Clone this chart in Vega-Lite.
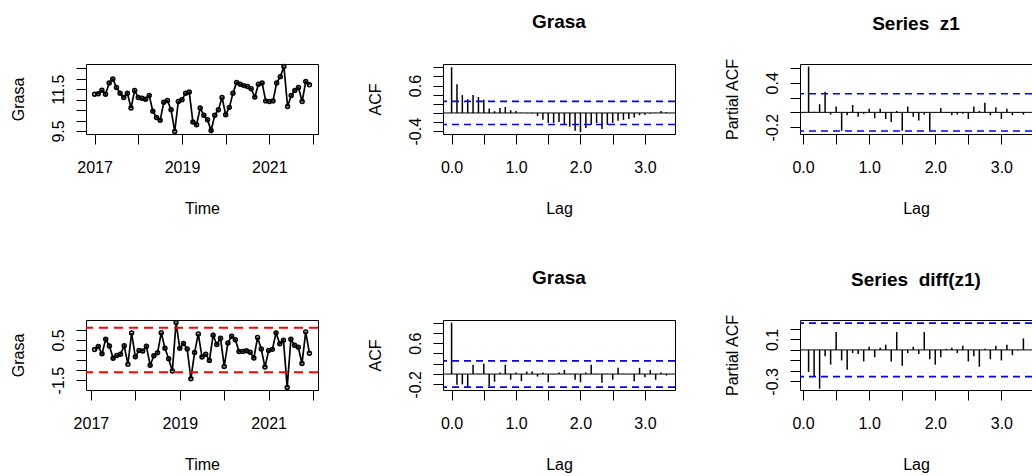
{
  "$schema": "https://vega.github.io/schema/vega-lite/v6.json",
  "background": "white",
  "padding": {"left": 10, "top": 12, "right": 0, "bottom": 1},
  "columns": 3,
  "spacing": {"row": 186, "column": 125},
  "bounds": "flush",
  "config": {
    "font": "Liberation Sans",
    "view": {"stroke": "black", "strokeWidth": 1},
    "axis": {
      "grid": false, "domain": false, "ticks": true, "tickSize": 10, "tickColor": "black", "tickWidth": 1,
      "labelColor": "black", "labelFontSize": 16, "labelFont": "Liberation Sans",
      "titleFont": "Liberation Sans", "titleFontSize": 16, "titleFontWeight": "normal", "titleColor": "black",
      "labelFlush": false, "labelOverlap": false, "labelBound": false
    },
    "axisX": {
      "labelAngle": 0, "labelAlign": "center", "labelBaseline": "alphabetic", "labelPadding": 28.5,
      "titleX": 116, "titleY": 79, "titleBaseline": "alphabetic", "titleAlign": "center", "titleAngle": 0
    },
    "axisY": {
      "labelAngle": -90, "labelAlign": "center", "labelBaseline": "alphabetic", "labelPadding": 12.5,
      "titleX": -62.5, "titleY": 35, "titleAngle": -90, "titleAlign": "center", "titleBaseline": "alphabetic"
    },
    "title": {"font": "Liberation Sans", "fontSize": 19, "fontWeight": "bold", "color": "black", "baseline": "alphabetic", "offset": 32, "frame": "group", "anchor": "middle"}
  },
  "datasets": {
    "z1": [
      {"t": 2017, "v": 11.26}, {"t": 2017.0833, "v": 11.28}, {"t": 2017.1667, "v": 11.45}, {"t": 2017.25, "v": 11.26},
      {"t": 2017.3333, "v": 11.79}, {"t": 2017.4167, "v": 11.99}, {"t": 2017.5, "v": 11.58}, {"t": 2017.5833, "v": 11.31},
      {"t": 2017.6667, "v": 11.10}, {"t": 2017.75, "v": 11.31}, {"t": 2017.8333, "v": 10.60}, {"t": 2017.9167, "v": 11.44},
      {"t": 2018, "v": 11.10}, {"t": 2018.0833, "v": 11.07}, {"t": 2018.1667, "v": 11.02}, {"t": 2018.25, "v": 11.20},
      {"t": 2018.3333, "v": 10.44}, {"t": 2018.4167, "v": 10.15}, {"t": 2018.5, "v": 10.01}, {"t": 2018.5833, "v": 10.87},
      {"t": 2018.6667, "v": 10.96}, {"t": 2018.75, "v": 10.52}, {"t": 2018.8333, "v": 9.48}, {"t": 2018.9167, "v": 10.91},
      {"t": 2019, "v": 10.99}, {"t": 2019.0833, "v": 11.31}, {"t": 2019.1667, "v": 11.36}, {"t": 2019.25, "v": 9.93},
      {"t": 2019.3333, "v": 9.80}, {"t": 2019.4167, "v": 10.60}, {"t": 2019.5, "v": 10.25}, {"t": 2019.5833, "v": 10.04},
      {"t": 2019.6667, "v": 9.52}, {"t": 2019.75, "v": 10.25}, {"t": 2019.8333, "v": 10.52}, {"t": 2019.9167, "v": 11.10},
      {"t": 2020, "v": 10.28}, {"t": 2020.0833, "v": 10.63}, {"t": 2020.1667, "v": 11.31}, {"t": 2020.25, "v": 11.82},
      {"t": 2020.3333, "v": 11.74}, {"t": 2020.4167, "v": 11.67}, {"t": 2020.5, "v": 11.63}, {"t": 2020.5833, "v": 11.52},
      {"t": 2020.6667, "v": 11.12}, {"t": 2020.75, "v": 11.74}, {"t": 2020.8333, "v": 11.79}, {"t": 2020.9167, "v": 10.94},
      {"t": 2021, "v": 10.91}, {"t": 2021.0833, "v": 10.94}, {"t": 2021.1667, "v": 11.79}, {"t": 2021.25, "v": 12.10},
      {"t": 2021.3333, "v": 12.58}, {"t": 2021.4167, "v": 10.67}, {"t": 2021.5, "v": 11.20}, {"t": 2021.5833, "v": 11.44},
      {"t": 2021.6667, "v": 11.58}, {"t": 2021.75, "v": 10.91}, {"t": 2021.8333, "v": 11.87}, {"t": 2021.9167, "v": 11.71}
    ],
    "dz1": [
      {"t": 2017.0833, "v": 0.02}, {"t": 2017.1667, "v": 0.17}, {"t": 2017.25, "v": -0.19}, {"t": 2017.3333, "v": 0.53},
      {"t": 2017.4167, "v": 0.20}, {"t": 2017.5, "v": -0.41}, {"t": 2017.5833, "v": -0.27}, {"t": 2017.6667, "v": -0.21},
      {"t": 2017.75, "v": 0.21}, {"t": 2017.8333, "v": -0.71}, {"t": 2017.9167, "v": 0.84}, {"t": 2018, "v": -0.34},
      {"t": 2018.0833, "v": -0.03}, {"t": 2018.1667, "v": -0.05}, {"t": 2018.25, "v": 0.18}, {"t": 2018.3333, "v": -0.76},
      {"t": 2018.4167, "v": -0.29}, {"t": 2018.5, "v": -0.14}, {"t": 2018.5833, "v": 0.86}, {"t": 2018.6667, "v": 0.09},
      {"t": 2018.75, "v": -0.44}, {"t": 2018.8333, "v": -1.04}, {"t": 2018.9167, "v": 1.36}, {"t": 2019, "v": 0.08},
      {"t": 2019.0833, "v": 0.32}, {"t": 2019.1667, "v": 0.05}, {"t": 2019.25, "v": -1.43}, {"t": 2019.3333, "v": -0.13},
      {"t": 2019.4167, "v": 0.80}, {"t": 2019.5, "v": -0.35}, {"t": 2019.5833, "v": -0.21}, {"t": 2019.6667, "v": -0.52},
      {"t": 2019.75, "v": 0.73}, {"t": 2019.8333, "v": 0.27}, {"t": 2019.9167, "v": 0.58}, {"t": 2020, "v": -0.82},
      {"t": 2020.0833, "v": 0.35}, {"t": 2020.1667, "v": 0.68}, {"t": 2020.25, "v": 0.51}, {"t": 2020.3333, "v": -0.08},
      {"t": 2020.4167, "v": -0.07}, {"t": 2020.5, "v": -0.04}, {"t": 2020.5833, "v": -0.11}, {"t": 2020.6667, "v": -0.40},
      {"t": 2020.75, "v": 0.62}, {"t": 2020.8333, "v": 0.05}, {"t": 2020.9167, "v": -0.85}, {"t": 2021, "v": -0.03},
      {"t": 2021.0833, "v": 0.03}, {"t": 2021.1667, "v": 0.85}, {"t": 2021.25, "v": 0.31}, {"t": 2021.3333, "v": 0.48},
      {"t": 2021.4167, "v": -1.86}, {"t": 2021.5, "v": 0.53}, {"t": 2021.5833, "v": 0.24}, {"t": 2021.6667, "v": 0.14},
      {"t": 2021.75, "v": -0.67}, {"t": 2021.8333, "v": 0.90}, {"t": 2021.9167, "v": -0.16}
    ],
    "limits": [{"h": 1.1}, {"h": -1.11}],
    "acf1": [
      {"lag": 0, "v": 1.0}, {"lag": 0.0833, "v": 0.63}, {"lag": 0.1667, "v": 0.39}, {"lag": 0.25, "v": 0.30},
      {"lag": 0.3333, "v": 0.39}, {"lag": 0.4167, "v": 0.35}, {"lag": 0.5, "v": 0.29}, {"lag": 0.5833, "v": 0.10},
      {"lag": 0.6667, "v": 0.04}, {"lag": 0.75, "v": 0.11}, {"lag": 0.8333, "v": 0.13}, {"lag": 0.9167, "v": 0.06},
      {"lag": 1, "v": 0.04}, {"lag": 1.0833, "v": 0.005}, {"lag": 1.1667, "v": -0.005}, {"lag": 1.25, "v": -0.01},
      {"lag": 1.3333, "v": -0.07}, {"lag": 1.4167, "v": -0.15}, {"lag": 1.5, "v": -0.22}, {"lag": 1.5833, "v": -0.22},
      {"lag": 1.6667, "v": -0.20}, {"lag": 1.75, "v": -0.25}, {"lag": 1.8333, "v": -0.30}, {"lag": 1.9167, "v": -0.39},
      {"lag": 2, "v": -0.42}, {"lag": 2.0833, "v": -0.33}, {"lag": 2.1667, "v": -0.26}, {"lag": 2.25, "v": -0.22},
      {"lag": 2.3333, "v": -0.35}, {"lag": 2.4167, "v": -0.26}, {"lag": 2.5, "v": -0.22}, {"lag": 2.5833, "v": -0.17},
      {"lag": 2.6667, "v": -0.15}, {"lag": 2.75, "v": -0.13}, {"lag": 2.8333, "v": -0.10}, {"lag": 2.9167, "v": -0.05},
      {"lag": 3, "v": -0.04}, {"lag": 3.0833, "v": -0.015}, {"lag": 3.1667, "v": 0.005}, {"lag": 3.25, "v": 0.04},
      {"lag": 3.3333, "v": 0.015}
    ],
    "pacf1": [
      {"lag": 0.0833, "v": 0.62}, {"lag": 0.1667, "v": 0.01}, {"lag": 0.25, "v": 0.11}, {"lag": 0.3333, "v": 0.28},
      {"lag": 0.4167, "v": -0.03}, {"lag": 0.5, "v": 0.08}, {"lag": 0.5833, "v": -0.25}, {"lag": 0.6667, "v": -0.04},
      {"lag": 0.75, "v": 0.10}, {"lag": 0.8333, "v": -0.06}, {"lag": 0.9167, "v": -0.02}, {"lag": 1, "v": 0.05},
      {"lag": 1.0833, "v": -0.08}, {"lag": 1.1667, "v": 0.05}, {"lag": 1.25, "v": -0.09}, {"lag": 1.3333, "v": -0.13},
      {"lag": 1.4167, "v": 0.02}, {"lag": 1.5, "v": -0.25}, {"lag": 1.5833, "v": 0.08}, {"lag": 1.6667, "v": -0.06},
      {"lag": 1.75, "v": -0.11}, {"lag": 1.8333, "v": -0.03}, {"lag": 1.9167, "v": -0.25}, {"lag": 2, "v": 0.005},
      {"lag": 2.0833, "v": 0.06}, {"lag": 2.1667, "v": -0.005}, {"lag": 2.25, "v": -0.04}, {"lag": 2.3333, "v": -0.03},
      {"lag": 2.4167, "v": -0.02}, {"lag": 2.5, "v": -0.09}, {"lag": 2.5833, "v": 0.08}, {"lag": 2.6667, "v": 0.02},
      {"lag": 2.75, "v": 0.13}, {"lag": 2.8333, "v": -0.04}, {"lag": 2.9167, "v": 0.07}, {"lag": 3, "v": -0.09},
      {"lag": 3.0833, "v": 0.05}, {"lag": 3.1667, "v": -0.04}, {"lag": 3.25, "v": -0.01}, {"lag": 3.3333, "v": -0.03}
    ],
    "acf2": [
      {"lag": 0, "v": 1.0}, {"lag": 0.0833, "v": -0.21}, {"lag": 0.1667, "v": -0.20}, {"lag": 0.25, "v": -0.25},
      {"lag": 0.3333, "v": 0.18}, {"lag": 0.4167, "v": 0.005}, {"lag": 0.5, "v": 0.20}, {"lag": 0.5833, "v": -0.23},
      {"lag": 0.6667, "v": -0.15}, {"lag": 0.75, "v": 0.03}, {"lag": 0.8333, "v": 0.18}, {"lag": 0.9167, "v": -0.11},
      {"lag": 1, "v": 0.03}, {"lag": 1.0833, "v": -0.14}, {"lag": 1.1667, "v": 0.05}, {"lag": 1.25, "v": 0.05},
      {"lag": 1.3333, "v": -0.05}, {"lag": 1.4167, "v": 0.03}, {"lag": 1.5, "v": -0.16}, {"lag": 1.5833, "v": -0.005},
      {"lag": 1.6667, "v": 0.03}, {"lag": 1.75, "v": 0.08}, {"lag": 1.8333, "v": 0.005}, {"lag": 1.9167, "v": -0.11},
      {"lag": 2, "v": -0.16}, {"lag": 2.0833, "v": 0.03}, {"lag": 2.1667, "v": 0.18}, {"lag": 2.25, "v": -0.005},
      {"lag": 2.3333, "v": -0.17}, {"lag": 2.4167, "v": 0.005}, {"lag": 2.5, "v": -0.11}, {"lag": 2.5833, "v": 0.12},
      {"lag": 2.6667, "v": 0.005}, {"lag": 2.75, "v": -0.005}, {"lag": 2.8333, "v": -0.14}, {"lag": 2.9167, "v": 0.12},
      {"lag": 3, "v": -0.06}, {"lag": 3.0833, "v": 0.08}, {"lag": 3.1667, "v": -0.11}, {"lag": 3.25, "v": 0.03},
      {"lag": 3.3333, "v": -0.03}
    ],
    "pacf2": [
      {"lag": 0.0833, "v": -0.21}, {"lag": 0.1667, "v": -0.25}, {"lag": 0.25, "v": -0.37}, {"lag": 0.3333, "v": -0.06},
      {"lag": 0.4167, "v": -0.14}, {"lag": 0.5, "v": 0.17}, {"lag": 0.5833, "v": -0.10}, {"lag": 0.6667, "v": -0.19},
      {"lag": 0.75, "v": -0.03}, {"lag": 0.8333, "v": -0.04}, {"lag": 0.9167, "v": -0.11}, {"lag": 1, "v": 0.03},
      {"lag": 1.0833, "v": -0.07}, {"lag": 1.1667, "v": 0.02}, {"lag": 1.25, "v": 0.05}, {"lag": 1.3333, "v": -0.11},
      {"lag": 1.4167, "v": 0.17}, {"lag": 1.5, "v": -0.15}, {"lag": 1.5833, "v": -0.03}, {"lag": 1.6667, "v": 0.03},
      {"lag": 1.75, "v": -0.04}, {"lag": 1.8333, "v": 0.17}, {"lag": 1.9167, "v": -0.09}, {"lag": 2, "v": -0.14},
      {"lag": 2.0833, "v": -0.07}, {"lag": 2.1667, "v": 0.01}, {"lag": 2.25, "v": 0.02}, {"lag": 2.3333, "v": -0.03},
      {"lag": 2.4167, "v": 0.04}, {"lag": 2.5, "v": -0.11}, {"lag": 2.5833, "v": -0.06}, {"lag": 2.6667, "v": -0.16},
      {"lag": 2.75, "v": 0.01}, {"lag": 2.8333, "v": -0.09}, {"lag": 2.9167, "v": 0.04}, {"lag": 3, "v": -0.10},
      {"lag": 3.0833, "v": 0.05}, {"lag": 3.1667, "v": -0.05}, {"lag": 3.25, "v": -0.005}, {"lag": 3.3333, "v": 0.11}
    ],
    "ci60": [{"h": 0.253}, {"h": -0.253}],
    "ci59": [{"h": 0.255}, {"h": -0.255}],
    "zero": [{"h": 0}]
  },
  "concat": [
    {
      "width": 232, "height": 70,
      "data": {"name": "z1"},
      "encoding": {
        "x": {"field": "t", "type": "quantitative", "scale": {"domain": [2016.803, 2022.113], "nice": false, "zero": false},
              "axis": {"title": "Time", "labelOverlap": false, "values": [2017, 2018, 2019, 2020, 2021, 2022], "labelExpr": "abs(datum.value - 2017) < 0.01 ? '2017' : abs(datum.value - 2019) < 0.01 ? '2019' : abs(datum.value - 2021) < 0.01 ? '2021' : ''"}},
        "y": {"field": "v", "type": "quantitative", "scale": {"domain": [9.356, 12.704], "nice": false, "zero": false},
              "axis": {"title": "Grasa", "labelOverlap": false, "values": [9.5, 10, 10.5, 11, 11.5, 12, 12.5], "labelExpr": "abs(datum.value - 9.5) < 0.001 ? '9.5' : abs(datum.value - 11.5) < 0.001 ? '11.5' : ''"}}
      },
      "layer": [
        {"mark": {"type": "line", "color": "black", "strokeWidth": 1.7}},
        {"mark": {"type": "point", "shape": "circle", "filled": false, "color": "black", "size": 15, "strokeWidth": 1.6, "opacity": 1}}
      ]
    },
    {
      "width": 232, "height": 70,
      "title": {"text": "Grasa", "offset": 32},
      "resolve": {"axis": {"y": "independent"}},
      "layer": [
        {
          "data": {"name": "acf1"},
          "mark": {"type": "rule", "color": "black", "strokeWidth": 1.5},
          "encoding": {
            "x": {"field": "lag", "type": "quantitative", "scale": {"domain": [-0.1333, 3.4667], "nice": false, "zero": false},
                  "axis": {"title": "Lag", "labelOverlap": false, "values": [0, 0.5, 1, 1.5, 2, 2.5, 3], "labelExpr": "abs(datum.value) < 0.001 ? '0.0' : abs(datum.value - 1) < 0.001 ? '1.0' : abs(datum.value - 2) < 0.001 ? '2.0' : abs(datum.value - 3) < 0.001 ? '3.0' : ''"}},
            "y": {"field": "v", "type": "quantitative", "scale": {"domain": [-0.46, 1.07], "nice": false, "zero": false},
                  "axis": {"title": "ACF", "labelOverlap": false, "values": [-0.4, -0.2, 0, 0.2, 0.4, 0.6, 0.8, 1], "labelExpr": "abs(datum.value + 0.4) < 0.001 ? '-0.4' : abs(datum.value - 0.6) < 0.001 ? '0.6' : ''"}},
            "y2": {"datum": 0}
          }
        },
        {
          "data": {"name": "zero"},
          "mark": {"type": "rule", "color": "black", "strokeWidth": 1},
          "encoding": {"y": {"field": "h", "type": "quantitative", "axis": null, "scale": {"domain": [-0.46, 1.07], "nice": false, "zero": false}}}
        },
        {
          "data": {"name": "ci60"},
          "mark": {"type": "rule", "color": "#0000FF", "strokeWidth": 1.6, "strokeDash": [7, 5]},
          "encoding": {"y": {"field": "h", "type": "quantitative", "axis": null, "scale": {"domain": [-0.46, 1.07], "nice": false, "zero": false}}}
        }
      ]
    },
    {
      "width": 232, "height": 70,
      "title": {"text": "Series\u00a0\u00a0z1", "offset": 24},
      "resolve": {"axis": {"y": "independent"}},
      "layer": [
        {
          "data": {"name": "pacf1"},
          "mark": {"type": "rule", "color": "black", "strokeWidth": 1.5},
          "encoding": {
            "x": {"field": "lag", "type": "quantitative", "scale": {"domain": [-0.0467, 3.4633], "nice": false, "zero": false},
                  "axis": {"title": "Lag", "labelOverlap": false, "values": [0, 0.5, 1, 1.5, 2, 2.5, 3], "labelExpr": "abs(datum.value) < 0.001 ? '0.0' : abs(datum.value - 1) < 0.001 ? '1.0' : abs(datum.value - 2) < 0.001 ? '2.0' : abs(datum.value - 3) < 0.001 ? '3.0' : ''"}},
            "y": {"field": "v", "type": "quantitative", "scale": {"domain": [-0.293, 0.655], "nice": false, "zero": false},
                  "axis": {"title": "Partial ACF", "labelOverlap": false, "values": [-0.2, 0, 0.2, 0.4, 0.6], "labelExpr": "abs(datum.value + 0.2) < 0.001 ? '-0.2' : abs(datum.value - 0.4) < 0.001 ? '0.4' : ''"}},
            "y2": {"datum": 0}
          }
        },
        {
          "data": {"name": "zero"},
          "mark": {"type": "rule", "color": "black", "strokeWidth": 1},
          "encoding": {"y": {"field": "h", "type": "quantitative", "axis": null, "scale": {"domain": [-0.293, 0.655], "nice": false, "zero": false}}}
        },
        {
          "data": {"name": "ci60"},
          "mark": {"type": "rule", "color": "#0000FF", "strokeWidth": 1.6, "strokeDash": [7, 5]},
          "encoding": {"y": {"field": "h", "type": "quantitative", "axis": null, "scale": {"domain": [-0.293, 0.655], "nice": false, "zero": false}}}
        }
      ]
    },
    {
      "width": 232, "height": 70,
      "resolve": {"axis": {"y": "independent"}},
      "layer": [
        {
          "data": {"name": "dz1"},
          "encoding": {
            "x": {"field": "t", "type": "quantitative", "scale": {"domain": [2016.89, 2022.11], "nice": false, "zero": false},
                  "axis": {"title": "Time", "labelOverlap": false, "values": [2017, 2018, 2019, 2020, 2021, 2022], "labelExpr": "abs(datum.value - 2017) < 0.01 ? '2017' : abs(datum.value - 2019) < 0.01 ? '2019' : abs(datum.value - 2021) < 0.01 ? '2021' : ''"}},
            "y": {"field": "v", "type": "quantitative", "scale": {"domain": [-1.99, 1.49], "nice": false, "zero": false},
                  "axis": {"title": "Grasa", "labelOverlap": false, "values": [-1.5, -1, -0.5, 0, 0.5, 1], "labelExpr": "abs(datum.value + 1.5) < 0.001 ? '-1.5' : abs(datum.value - 0.5) < 0.001 ? '0.5' : ''"}}
          },
          "layer": [
            {"mark": {"type": "line", "color": "black", "strokeWidth": 1.7}},
            {"mark": {"type": "point", "shape": "circle", "filled": false, "color": "black", "size": 15, "strokeWidth": 1.6, "opacity": 1}}
          ]
        },
        {
          "data": {"name": "limits"},
          "mark": {"type": "rule", "color": "#FF0000", "strokeWidth": 2, "strokeDash": [9, 6]},
          "encoding": {"y": {"field": "h", "type": "quantitative", "axis": null, "scale": {"domain": [-1.99, 1.49], "nice": false, "zero": false}}}
        }
      ]
    },
    {
      "width": 232, "height": 70,
      "title": {"text": "Grasa", "offset": 32},
      "resolve": {"axis": {"y": "independent"}},
      "layer": [
        {
          "data": {"name": "acf2"},
          "mark": {"type": "rule", "color": "black", "strokeWidth": 1.5},
          "encoding": {
            "x": {"field": "lag", "type": "quantitative", "scale": {"domain": [-0.1333, 3.4667], "nice": false, "zero": false},
                  "axis": {"title": "Lag", "labelOverlap": false, "values": [0, 0.5, 1, 1.5, 2, 2.5, 3], "labelExpr": "abs(datum.value) < 0.001 ? '0.0' : abs(datum.value - 1) < 0.001 ? '1.0' : abs(datum.value - 2) < 0.001 ? '2.0' : abs(datum.value - 3) < 0.001 ? '3.0' : ''"}},
            "y": {"field": "v", "type": "quantitative", "scale": {"domain": [-0.31, 1.05], "nice": false, "zero": false},
                  "axis": {"title": "ACF", "labelOverlap": false, "values": [-0.2, 0, 0.2, 0.4, 0.6, 0.8, 1], "labelExpr": "abs(datum.value + 0.2) < 0.001 ? '-0.2' : abs(datum.value - 0.6) < 0.001 ? '0.6' : ''"}},
            "y2": {"datum": 0}
          }
        },
        {
          "data": {"name": "zero"},
          "mark": {"type": "rule", "color": "black", "strokeWidth": 1},
          "encoding": {"y": {"field": "h", "type": "quantitative", "axis": null, "scale": {"domain": [-0.31, 1.05], "nice": false, "zero": false}}}
        },
        {
          "data": {"name": "ci59"},
          "mark": {"type": "rule", "color": "#0000FF", "strokeWidth": 1.6, "strokeDash": [7, 5]},
          "encoding": {"y": {"field": "h", "type": "quantitative", "axis": null, "scale": {"domain": [-0.31, 1.05], "nice": false, "zero": false}}}
        }
      ]
    },
    {
      "width": 232, "height": 70,
      "title": {"text": "Series\u00a0\u00a0diff(z1)", "offset": 24},
      "resolve": {"axis": {"y": "independent"}},
      "layer": [
        {
          "data": {"name": "pacf2"},
          "mark": {"type": "rule", "color": "black", "strokeWidth": 1.5},
          "encoding": {
            "x": {"field": "lag", "type": "quantitative", "scale": {"domain": [-0.0467, 3.4633], "nice": false, "zero": false},
                  "axis": {"title": "Lag", "labelOverlap": false, "values": [0, 0.5, 1, 1.5, 2, 2.5, 3], "labelExpr": "abs(datum.value) < 0.001 ? '0.0' : abs(datum.value - 1) < 0.001 ? '1.0' : abs(datum.value - 2) < 0.001 ? '2.0' : abs(datum.value - 3) < 0.001 ? '3.0' : ''"}},
            "y": {"field": "v", "type": "quantitative", "scale": {"domain": [-0.382, 0.285], "nice": false, "zero": false},
                  "axis": {"title": "Partial ACF", "labelOverlap": false, "values": [-0.3, -0.2, -0.1, 0, 0.1, 0.2], "labelExpr": "abs(datum.value + 0.3) < 0.001 ? '-0.3' : abs(datum.value - 0.1) < 0.001 ? '0.1' : ''"}},
            "y2": {"datum": 0}
          }
        },
        {
          "data": {"name": "zero"},
          "mark": {"type": "rule", "color": "black", "strokeWidth": 1},
          "encoding": {"y": {"field": "h", "type": "quantitative", "axis": null, "scale": {"domain": [-0.382, 0.285], "nice": false, "zero": false}}}
        },
        {
          "data": {"name": "ci59"},
          "mark": {"type": "rule", "color": "#0000FF", "strokeWidth": 1.6, "strokeDash": [7, 5]},
          "encoding": {"y": {"field": "h", "type": "quantitative", "axis": null, "scale": {"domain": [-0.382, 0.285], "nice": false, "zero": false}}}
        }
      ]
    }
  ]
}
